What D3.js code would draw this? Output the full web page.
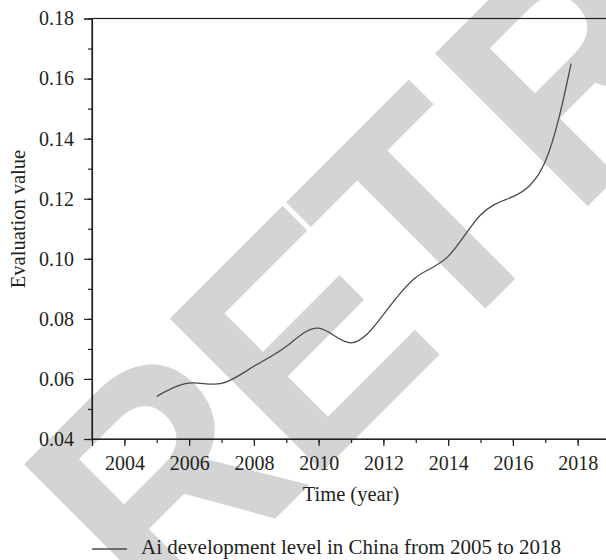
<!DOCTYPE html>
<html>
<head>
<meta charset="utf-8">
<script src="https://cdn.jsdelivr.net/npm/d3@7"></script>
<style>
  body { margin: 0; background: #fff; }
  svg text { font-family: "Liberation Serif", "DejaVu Serif", serif; fill: #231f20; }
</style>
</head>
<body>
<div id="chart"></div>
<script>
// values
const years = [2005, 2006, 2007, 2008, 2009, 2010, 2011, 2012, 2013, 2014, 2015, 2016, 2017, 2017.8];
const evalValues = [0.0542, 0.0586, 0.0585, 0.0642, 0.0708, 0.0769, 0.0720, 0.0814, 0.0938, 0.1008, 0.1146, 0.1207, 0.1324, 0.165];
const xTicks = [2004, 2006, 2008, 2010, 2012, 2014, 2016, 2018];
const yTicks = [0.04, 0.06, 0.08, 0.10, 0.12, 0.14, 0.16, 0.18];
const legendLabel = "Ai development level in China from 2005 to 2018";

const width = 606, height = 560;
const ink = "#231f20";

const svg = d3.select("#chart").append("svg")
    .attr("width", width)
    .attr("height", height);

// watermark, drawn first so it sits behind the chart
svg.append("text")
    .attr("transform", "translate(397,397) rotate(-45) scale(1,1.065)")
    .attr("x", "-331 -125 56 250")
    .attr("y", 0)
    .style("font-family", "'Liberation Sans', Arial, sans-serif")
    .style("font-weight", "bold")
    .style("font-size", "295px")
    .style("fill", "#d4d4d4")
    .text("RETRACTED");

const xScale = d3.scaleLinear().domain([2003, 2019]).range([92, 610]);
const yScale = d3.scaleLinear().domain([0.04, 0.18]).range([439, 18.5]);

// frame (right edge falls outside the picture)
svg.append("rect")
    .attr("x", xScale(2003)).attr("y", yScale(0.18))
    .attr("width", xScale(2019) - xScale(2003))
    .attr("height", yScale(0.04) - yScale(0.18))
    .attr("fill", "none").attr("stroke", ink).attr("stroke-width", 1.2);

// minor ticks every year / every 0.01
const xMinor = d3.range(2003, 2020, 1);
const yMinor = d3.range(4, 19, 1).map(d => d / 100);

const xAxis = d3.axisBottom(xScale).tickValues(xTicks).tickFormat(d3.format("d")).tickSize(7).tickPadding(10);
const yAxis = d3.axisLeft(yScale).tickValues(yTicks).tickFormat(d3.format(".2f")).tickSize(8).tickPadding(10);

const gx = svg.append("g").attr("transform", `translate(0,${yScale(0.04)})`);
gx.call(d3.axisBottom(xScale).tickValues(xMinor).tickFormat("").tickSize(4)).select(".domain").remove();
gx.append("g").call(xAxis);

const gy = svg.append("g").attr("transform", `translate(${xScale(2003)},0)`);
gy.call(d3.axisLeft(yScale).tickValues(yMinor).tickFormat("").tickSize(4)).select(".domain").remove();
gy.append("g").call(yAxis);

svg.selectAll(".tick line").attr("stroke", ink).attr("stroke-width", 1.2);
svg.selectAll(".domain").attr("stroke", ink).attr("stroke-width", 1.2);
svg.selectAll(".tick text")
    .style("font-family", "'Liberation Serif', serif")
    .style("font-size", "20px")
    .attr("fill", ink);

// line
const data = years.map((y, i) => ({year: y, value: evalValues[i]}));
const line = d3.line()
    .x(d => xScale(d.year))
    .y(d => yScale(d.value))
    .curve(d3.curveNatural);

svg.append("path")
    .datum(data)
    .attr("fill", "none")
    .attr("stroke", "#4a4a4a")
    .attr("stroke-width", 1.3)
    .attr("d", line);

// axis titles
svg.append("text")
    .attr("x", (xScale(2003) + xScale(2019)) / 2)
    .attr("y", 501)
    .attr("text-anchor", "middle")
    .style("font-size", "20.5px")
    .text("Time (year)");

svg.append("text")
    .attr("transform", "translate(25,219) rotate(-90)")
    .attr("text-anchor", "middle")
    .style("font-size", "20.5px")
    .text("Evaluation value");

// legend
svg.append("line")
    .attr("x1", 92).attr("x2", 127)
    .attr("y1", 549).attr("y2", 549)
    .attr("stroke", "#4a4a4a").attr("stroke-width", 1.3);
svg.append("text")
    .attr("x", 141)
    .attr("y", 554)
    .style("font-size", "21px")
    .text(legendLabel);
</script>
</body>
</html>
